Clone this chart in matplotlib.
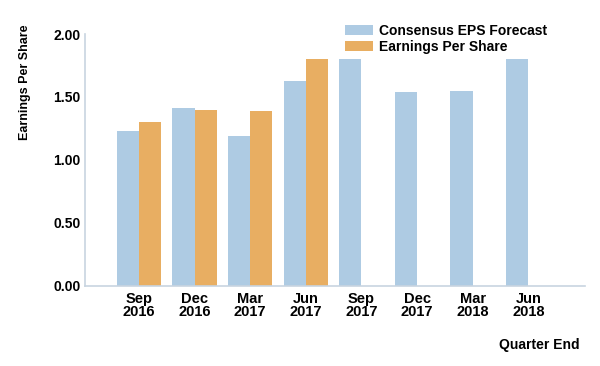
import numpy as np
import matplotlib
matplotlib.use("Agg")
from matplotlib import pyplot as plt

plt.rcParams['font.family'] = ['Liberation Sans', 'DejaVu Sans']

quarters = ['Sep\n2016', 'Dec\n2016', 'Mar\n2017', 'Jun\n2017',
            'Sep\n2017', 'Dec\n2017', 'Mar\n2018', 'Jun\n2018']
consensus = [1.23, 1.415, 1.19, 1.63, 1.80, 1.54, 1.55, 1.80]
eps_actual = [1.30, 1.40, 1.39, 1.80]

blue = '#aecbe3'
orange = '#e8ae62'
spine_col = '#c8d4e0'

fig = plt.figure(figsize=(6, 3.66), dpi=100)
ax = fig.add_axes([0.1417, 0.2186, 0.8333, 0.6885])

x = np.arange(len(quarters))
w = 0.4
ax.bar(x - w / 2, consensus, w, color=blue, label='Consensus EPS Forecast')
ax.bar(x[:len(eps_actual)] + w / 2, eps_actual, w, color=orange, label='Earnings Per Share')

ax.set_xlim(-0.97, 8.02)
ax.set_ylim(0, 2.0)
ax.set_yticks([0, 0.5, 1.0, 1.5, 2.0])
ax.set_yticklabels([f'{v:.2f}' for v in [0, 0.5, 1.0, 1.5, 2.0]])
ax.set_xticks(x)
ax.set_xticklabels(quarters, linespacing=0.95)
ax.tick_params(length=0, labelsize=10.5, pad=4)
ax.tick_params(axis='y', labelsize=10, pad=3)
for lab in ax.get_xticklabels() + ax.get_yticklabels():
    lab.set_fontweight('bold')

for s in ['top', 'right']:
    ax.spines[s].set_visible(False)
for s in ['left', 'bottom']:
    ax.spines[s].set_color(spine_col)
    ax.spines[s].set_linewidth(1.2)

# narrow face for the y title, as in the original
fig.text(0.042, 0.775, 'Earnings Per Share', rotation=90, ha='center', va='center',
         fontsize=9, fontweight='bold',
         family=['Liberation Sans Narrow', 'Liberation Sans', 'DejaVu Sans'])
fig.text(0.966, 0.057, 'Quarter End', ha='right', va='center',
         fontsize=10, fontweight='bold')

leg = ax.legend(loc='upper left', bbox_to_anchor=(0.575, 0.935), bbox_transform=fig.transFigure,
                frameon=False, fontsize=10, handlelength=2.0, handleheight=0.8,
                handletextpad=0.45, labelspacing=0.15, borderpad=0, borderaxespad=0)
for t in leg.get_texts():
    t.set_fontweight('bold')

fig.savefig('out.png', dpi=100)
